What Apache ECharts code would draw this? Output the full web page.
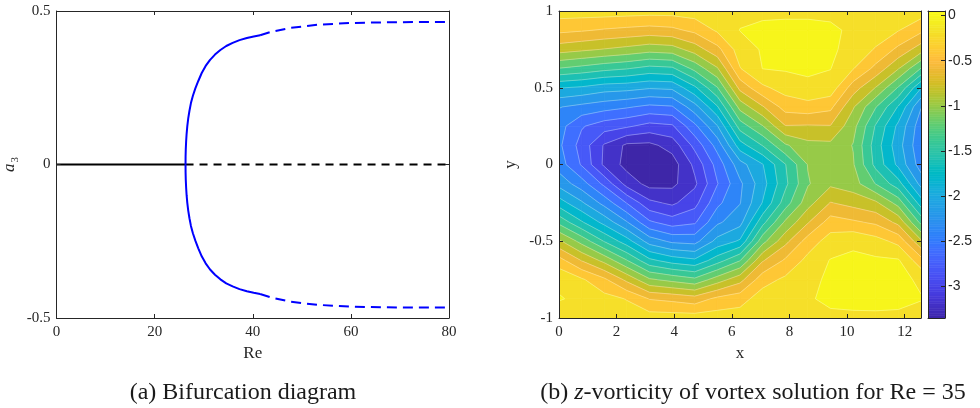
<!DOCTYPE html>
<html>
<head>
<meta charset="utf-8">
<script src="https://cdn.jsdelivr.net/npm/echarts@6/dist/echarts.min.js"></script>
<style>
html, body { margin: 0; padding: 0; background: #ffffff; }
#chart { width: 980px; height: 408px; }
</style>
</head>
<body>
<div id="chart"></div>
<script>
// ---------- (a) bifurcation diagram: a3 amplitude against Re ----------
const trivialStable = [[0, 0], [26.3, 0]];
const trivialUnstable = [[26.3, 0], [80, 0]];
const upperStable = [[26.3, 0], [26.31, 0.025], [26.35, 0.05], [26.42, 0.075], [26.52, 0.1], [26.66, 0.125],
  [26.85, 0.15], [27.1, 0.175], [27.4, 0.2], [27.8, 0.224], [28.3, 0.248], [28.9, 0.272], [29.6, 0.298],
  [30.4, 0.321], [31.3, 0.341], [32.3, 0.358], [33.4, 0.373], [34.6, 0.386], [35.9, 0.396], [37.3, 0.405],
  [38.8, 0.412], [40.2, 0.417], [41.5, 0.421]];
const upperUnstable = [[41.5, 0.421], [43.7, 0.432], [47.7, 0.445], [53.1, 0.455], [59.9, 0.461], [66.6, 0.463], [73, 0.464], [80, 0.464]];
const lowerStable = [[26.3, 0], [26.31, -0.025], [26.35, -0.05], [26.42, -0.075], [26.52, -0.1], [26.66, -0.125],
  [26.85, -0.15], [27.1, -0.175], [27.4, -0.2], [27.8, -0.224], [28.3, -0.248], [28.9, -0.273], [29.6, -0.299],
  [30.4, -0.322], [31.3, -0.342], [32.3, -0.359], [33.4, -0.374], [34.6, -0.387], [35.9, -0.397], [37.3, -0.406],
  [38.8, -0.413], [40.2, -0.418], [41.5, -0.422]];
const lowerUnstable = [[41.5, -0.422], [43.7, -0.433], [47.7, -0.447], [53.1, -0.457], [59.9, -0.463], [66.6, -0.465], [73, -0.466], [80, -0.466]];

// ---------- (b) z-vorticity field on the (x, y) grid ----------
const gridX = [0, 0.7854, 1.5708, 2.3562, 3.1416, 3.9270, 4.7124, 5.4978, 6.2832, 7.0686, 7.8540,
  8.6394, 9.4248, 10.2102, 10.9956, 11.7810, 12.5664];
const gridY = [-1, -0.875, -0.75, -0.625, -0.5, -0.375, -0.25, -0.125, 0, 0.125, 0.25, 0.375, 0.5, 0.625, 0.75, 0.875, 1];
// one row per gridY value, one column per gridX value
const vortZ = [
  [-0.08, -0.08, -0.08, -0.09, -0.10, -0.10, -0.10, -0.10, -0.10, -0.08, -0.07, -0.06, -0.04, -0.03, -0.03, -0.04, -0.08],
  [0.01, -0.03, -0.13, -0.21, -0.41, -0.45, -0.51, -0.35, -0.28, -0.10, -0.06, -0.02, 0.04, 0.045, 0.05, 0.05, 0.01],
  [-0.03, -0.17, -0.36, -0.65, -0.97, -1.06, -1.15, -0.90, -0.67, -0.28, -0.16, -0.06, 0.04, 0.05, 0.05, 0.05, -0.03],
  [-0.32, -0.61, -0.86, -1.19, -1.55, -1.69, -1.76, -1.49, -1.21, -0.62, -0.37, -0.14, 0.01, 0.03, 0.03, 0.02, -0.32],
  [-0.76, -1.07, -1.41, -1.71, -2.09, -2.24, -2.27, -1.93, -1.77, -1.07, -0.66, -0.31, -0.11, -0.03, -0.12, -0.26, -0.76],
  [-1.26, -1.58, -1.87, -2.19, -2.57, -2.70, -2.63, -2.24, -2.07, -1.47, -0.97, -0.62, -0.31, -0.37, -0.44, -0.66, -1.26],
  [-1.70, -1.97, -2.27, -2.61, -2.95, -3.04, -2.87, -2.45, -2.21, -1.79, -1.30, -0.88, -0.59, -0.67, -0.76, -1.08, -1.70],
  [-2.07, -2.31, -2.65, -3.08, -3.27, -3.25, -3.04, -2.61, -2.24, -1.88, -1.45, -1.02, -0.84, -0.91, -1.21, -1.52, -2.07],
  [-2.30, -2.62, -3.04, -3.27, -3.35, -3.30, -2.95, -2.52, -2.08, -1.81, -1.41, -0.99, -0.93, -0.98, -1.46, -1.85, -2.30],
  [-2.36, -2.68, -3.02, -3.24, -3.25, -3.12, -2.74, -2.32, -1.69, -1.39, -1.03, -0.86, -0.85, -1.01, -1.50, -1.92, -2.36],
  [-2.32, -2.58, -2.71, -2.77, -2.87, -2.83, -2.45, -2.01, -1.31, -1.01, -0.61, -0.62, -0.61, -0.93, -1.42, -1.85, -2.32],
  [-2.19, -2.26, -2.32, -2.38, -2.45, -2.42, -2.08, -1.62, -0.93, -0.62, -0.32, -0.28, -0.35, -0.78, -1.19, -1.62, -2.19],
  [-1.79, -1.83, -1.91, -1.93, -1.98, -1.96, -1.64, -1.21, -0.54, -0.24, -0.12, -0.04, -0.08, -0.50, -0.81, -1.22, -1.79],
  [-1.21, -1.27, -1.34, -1.39, -1.47, -1.44, -1.14, -0.82, -0.21, 0.003, 0.02, 0.03, 0.005, -0.19, -0.46, -0.79, -1.21],
  [-0.71, -0.76, -0.81, -0.86, -0.92, -0.89, -0.71, -0.46, -0.10, 0.02, 0.045, 0.05, 0.03, -0.06, -0.22, -0.45, -0.71],
  [-0.35, -0.38, -0.42, -0.45, -0.48, -0.45, -0.35, -0.17, 0.005, 0.03, 0.04, 0.04, 0.03, -0.03, -0.08, -0.19, -0.35],
  [-0.10, -0.10, -0.10, -0.11, -0.12, -0.12, -0.10, -0.08, -0.05, -0.03, -0.03, -0.03, -0.04, -0.07, -0.06, -0.08, -0.10]
];
const contourLevels = [-3.2, -3.0, -2.8, -2.6, -2.4, -2.2, -2.0, -1.8, -1.6, -1.4, -1.2, -1.0, -0.8, -0.6, -0.4, -0.2, 0];
const xTicksB = [0, 2, 4, 6, 8, 10, 12];
const colorbarTicks = [-3, -2.5, -2, -1.5, -1, -0.5, 0];

// parula colour map (64 entries)
const parula = [
  [0.2422,0.1504,0.6603],[0.2504,0.1650,0.7076],[0.2578,0.1818,0.7511],[0.2647,0.1978,0.7952],
  [0.2706,0.2147,0.8364],[0.2751,0.2342,0.8710],[0.2783,0.2559,0.8991],[0.2803,0.2782,0.9221],
  [0.2813,0.3006,0.9414],[0.2810,0.3228,0.9579],[0.2795,0.3447,0.9717],[0.2760,0.3667,0.9829],
  [0.2699,0.3892,0.9906],[0.2602,0.4123,0.9952],[0.2440,0.4358,0.9988],[0.2206,0.4603,0.9973],
  [0.1963,0.4847,0.9892],[0.1834,0.5074,0.9798],[0.1786,0.5289,0.9682],[0.1764,0.5499,0.9520],
  [0.1687,0.5703,0.9359],[0.1540,0.5902,0.9218],[0.1460,0.6091,0.9079],[0.1380,0.6276,0.8973],
  [0.1248,0.6459,0.8883],[0.1113,0.6635,0.8763],[0.0952,0.6798,0.8598],[0.0689,0.6948,0.8394],
  [0.0297,0.7082,0.8163],[0.0036,0.7203,0.7917],[0.0067,0.7312,0.7660],[0.0433,0.7411,0.7394],
  [0.0964,0.7500,0.7120],[0.1408,0.7584,0.6842],[0.1717,0.7670,0.6554],[0.1938,0.7758,0.6251],
  [0.2161,0.7843,0.5923],[0.2470,0.7918,0.5567],[0.2906,0.7973,0.5188],[0.3406,0.8008,0.4789],
  [0.3909,0.8029,0.4354],[0.4456,0.8024,0.3909],[0.5044,0.7993,0.3480],[0.5616,0.7942,0.3045],
  [0.6174,0.7876,0.2612],[0.6720,0.7793,0.2227],[0.7242,0.7698,0.1910],[0.7738,0.7598,0.1646],
  [0.8203,0.7498,0.1535],[0.8634,0.7406,0.1596],[0.9035,0.7330,0.1774],[0.9393,0.7288,0.2100],
  [0.9728,0.7298,0.2394],[0.9956,0.7434,0.2371],[0.9970,0.7659,0.2199],[0.9952,0.7893,0.2028],
  [0.9892,0.8136,0.1885],[0.9786,0.8386,0.1766],[0.9676,0.8639,0.1643],[0.9610,0.8890,0.1537],
  [0.9597,0.9135,0.1423],[0.9628,0.9373,0.1265],[0.9691,0.9606,0.1064],[0.9769,0.9839,0.0805]
];
function cmap(t) {
  t = Math.max(0, Math.min(1, t));
  const f = t * (parula.length - 1);
  const k = Math.min(parula.length - 2, Math.floor(f));
  const u = f - k;
  const a = parula[k], b = parula[k + 1];
  return 'rgb(' + [0, 1, 2].map(c => Math.round(255 * (a[c] + (b[c] - a[c]) * u))).join(',') + ')';
}

// colour limits follow the field's range
let zMin = Infinity, zMax = -Infinity;
vortZ.forEach(row => row.forEach(v => { zMin = Math.min(zMin, v); zMax = Math.max(zMax, v); }));
const cNorm = v => (v - zMin) / (zMax - zMin);
// each filled band takes the colour of its lower level
const bandColors = [cmap(0)].concat(contourLevels.map(l => cmap(cNorm(l))));

// clip a polygon (vertices carry field values) against v >= level or v <= level
function clipPoly(poly, level, keepAbove) {
  const out = [];
  for (let k = 0; k < poly.length; k++) {
    const a = poly[k], b = poly[(k + 1) % poly.length];
    const ia = keepAbove ? a.v >= level : a.v <= level;
    const ib = keepAbove ? b.v >= level : b.v <= level;
    if (ia) out.push(a);
    if (ia !== ib) {
      const t = (level - a.v) / (b.v - a.v);
      out.push({ x: a.x + t * (b.x - a.x), y: a.y + t * (b.y - a.y), v: level });
    }
  }
  return out;
}
// filled-contour pieces of one grid cell
function cellBands(i, j) {
  const sq = [
    { x: gridX[i], y: gridY[j], v: vortZ[j][i] },
    { x: gridX[i + 1], y: gridY[j], v: vortZ[j][i + 1] },
    { x: gridX[i + 1], y: gridY[j + 1], v: vortZ[j + 1][i + 1] },
    { x: gridX[i], y: gridY[j + 1], v: vortZ[j + 1][i] }
  ];
  const res = [];
  for (let m = 0; m <= contourLevels.length; m++) {
    const lo = m > 0 ? contourLevels[m - 1] : null;
    const hi = m < contourLevels.length ? contourLevels[m] : null;
    let p = sq;
    if (lo !== null) p = clipPoly(p, lo, true);
    if (p.length >= 3 && hi !== null) p = clipPoly(p, hi, false);
    if (p.length >= 3) res.push({ m: m, lo: lo, poly: p });
  }
  return res;
}

const cells = [];
for (let j = 0; j < gridY.length - 1; j++) {
  for (let i = 0; i < gridX.length - 1; i++) {
    cells.push([(gridX[i] + gridX[i + 1]) / 2, (gridY[j] + gridY[j + 1]) / 2, i, j]);
  }
}

// colour bar slices
const barSteps = 128;
const barData = [];
for (let k = 0; k < barSteps; k++) {
  const lo = zMin + (zMax - zMin) * k / barSteps;
  const hi = zMin + (zMax - zMin) * (k + 1) / barSteps;
  barData.push([0.5, (lo + hi) / 2, lo, hi, (k + 0.5) / barSteps]);
}

// ---------- styling ----------
const axisColor = '#262626';
const serif = '"Liberation Serif", "DejaVu Serif", serif';
const sans = '"Liberation Sans", Arial, sans-serif';
const lineStyleAxis = { color: axisColor, width: 1 };
const tickStyle = { show: true, inside: true, length: 4, lineStyle: { color: axisColor, width: 1 } };
const labelStyle = { fontFamily: serif, fontSize: 15, color: axisColor };

function boxAxis(base) {
  return Object.assign({
    type: 'value', z: 5,
    axisLine: { show: true, onZero: false, lineStyle: lineStyleAxis },
    axisTick: tickStyle,
    splitLine: { show: false },
    axisLabel: Object.assign({ show: true }, labelStyle)
  }, base);
}

const branchLine = (data, color, dash) => ({
  type: 'line', xAxisIndex: 0, yAxisIndex: 0, data: data, showSymbol: false, silent: true,
  lineStyle: { color: color, width: 2, type: dash || 'solid', cap: 'butt', join: 'round' }
});

const option = {
  animation: false,
  backgroundColor: '#ffffff',
  grid: [
    { left: 55, top: 11, width: 394, height: 307 },
    { left: 559, top: 11, width: 362, height: 307 },
    { left: 928, top: 11, width: 17, height: 307 }
  ],
  xAxis: [
    boxAxis({ gridIndex: 0, min: 0, max: 80, interval: 20, position: 'bottom',
      axisLabel: Object.assign({ margin: 7 }, labelStyle),
      name: 'Re', nameLocation: 'middle', nameGap: 27,
      nameTextStyle: { fontFamily: serif, fontSize: 17, color: axisColor } }),
    boxAxis({ gridIndex: 0, min: 0, max: 80, interval: 20, position: 'top', axisLabel: { show: false } }),
    boxAxis({ gridIndex: 1, min: 0, max: 12.5664, position: 'bottom',
      axisTick: Object.assign({ customValues: xTicksB }, tickStyle),
      axisLabel: Object.assign({ margin: 7, customValues: xTicksB }, labelStyle),
      name: 'x', nameLocation: 'middle', nameGap: 26,
      nameTextStyle: { fontFamily: serif, fontSize: 17, color: axisColor } }),
    boxAxis({ gridIndex: 1, min: 0, max: 12.5664, position: 'top',
      axisTick: Object.assign({ customValues: xTicksB }, tickStyle),
      axisLabel: { show: false } }),
    boxAxis({ gridIndex: 2, min: 0, max: 1, position: 'bottom', axisTick: { show: false }, axisLabel: { show: false } }),
    boxAxis({ gridIndex: 2, min: 0, max: 1, position: 'top', axisTick: { show: false }, axisLabel: { show: false } })
  ],
  yAxis: [
    boxAxis({ gridIndex: 0, min: -0.5, max: 0.5, interval: 0.5, position: 'left',
      axisLabel: Object.assign({ margin: 6 }, labelStyle),
      name: '{a|a}{s|3}', nameLocation: 'middle', nameGap: 36, nameRotate: 90,
      nameTextStyle: { rich: {
        a: { fontFamily: serif, fontStyle: 'italic', fontSize: 17, color: axisColor, lineHeight: 22, verticalAlign: 'middle' },
        s: { fontFamily: serif, fontSize: 11, color: axisColor, lineHeight: 22, verticalAlign: 'bottom', padding: [0, 0, 0, 1] }
      } } }),
    boxAxis({ gridIndex: 0, min: -0.5, max: 0.5, interval: 0.5, position: 'right', axisLabel: { show: false } }),
    boxAxis({ gridIndex: 1, min: -1, max: 1, interval: 0.5, position: 'left',
      axisLabel: Object.assign({ margin: 6 }, labelStyle),
      name: 'y', nameLocation: 'middle', nameGap: 40, nameRotate: 90,
      nameTextStyle: { fontFamily: serif, fontSize: 17, color: axisColor } }),
    boxAxis({ gridIndex: 1, min: -1, max: 1, interval: 0.5, position: 'right', axisLabel: { show: false } }),
    boxAxis({ gridIndex: 2, min: zMin, max: zMax, position: 'right',
      axisTick: Object.assign({ customValues: colorbarTicks }, tickStyle),
      axisLabel: { customValues: colorbarTicks, margin: 3, fontFamily: sans, fontSize: 14, color: axisColor,
        formatter: v => String(v) } }),
    boxAxis({ gridIndex: 2, min: zMin, max: zMax, position: 'left', axisTick: { show: false }, axisLabel: { show: false } })
  ],
  series: [
    branchLine(trivialStable, '#000000'),
    branchLine(trivialUnstable, '#000000', [8, 6]),
    branchLine(upperStable, '#0000ff'),
    branchLine(upperUnstable, '#0000ff', [10, 6]),
    branchLine(lowerStable, '#0000ff'),
    branchLine(lowerUnstable, '#0000ff', [10, 6]),
    {
      type: 'custom', xAxisIndex: 2, yAxisIndex: 2, data: cells, encode: { x: 0, y: 1 }, clip: true, silent: true, z: 2,
      renderItem: function (params, api) {
        const i = api.value(2), j = api.value(3);
        return {
          type: 'group',
          children: cellBands(i, j).map(b => ({
            type: 'polygon',
            shape: { points: b.poly.map(p => api.coord([p.x, p.y])) },
            style: { fill: bandColors[b.m], stroke: bandColors[b.m], lineWidth: 0.8 }
          }))
        };
      }
    },
    {
      type: 'custom', xAxisIndex: 2, yAxisIndex: 2, data: cells, encode: { x: 0, y: 1 }, clip: true, silent: true, z: 3,
      renderItem: function (params, api) {
        const i = api.value(2), j = api.value(3);
        const children = [];
        cellBands(i, j).forEach(b => {
          if (b.lo === null) return;
          const P = b.poly;
          for (let k = 0; k < P.length; k++) {
            const a = P[k], c = P[(k + 1) % P.length];
            if (a.v === b.lo && c.v === b.lo) {
              const p1 = api.coord([a.x, a.y]), p2 = api.coord([c.x, c.y]);
              children.push({ type: 'line', shape: { x1: p1[0], y1: p1[1], x2: p2[0], y2: p2[1] },
                style: { stroke: 'rgba(255,255,255,0.45)', lineWidth: 0.7 } });
            }
          }
        });
        return { type: 'group', children: children };
      }
    },
    {
      type: 'custom', xAxisIndex: 4, yAxisIndex: 4, data: barData, encode: { x: 0, y: 1 }, clip: true, silent: true,
      renderItem: function (params, api) {
        const p1 = api.coord([0, api.value(2)]);
        const p2 = api.coord([1, api.value(3)]);
        const col = cmap(api.value(4));
        return { type: 'rect', shape: { x: p1[0], y: p2[1], width: p2[0] - p1[0], height: p1[1] - p2[1] },
          style: { fill: col, stroke: col, lineWidth: 0.6 } };
      }
    }
  ],
  graphic: [
    { type: 'text', x: 243, y: 393, silent: true,
      style: { text: '(a) Bifurcation diagram', fontFamily: serif, fontSize: 24, fill: '#1a1a1a',
        align: 'center', verticalAlign: 'middle' } },
    { type: 'text', x: 753, y: 393, silent: true,
      style: { text: '(b) {i|z}-vorticity of vortex solution for Re = 35', fontFamily: serif, fontSize: 24, fill: '#1a1a1a',
        align: 'center', verticalAlign: 'middle',
        rich: { i: { fontFamily: serif, fontSize: 24, fontStyle: 'italic', fill: '#1a1a1a' } } } }
  ]
};

const chart = echarts.init(document.getElementById('chart'), null, { renderer: 'canvas' });
chart.setOption(option);
</script>
</body>
</html>
